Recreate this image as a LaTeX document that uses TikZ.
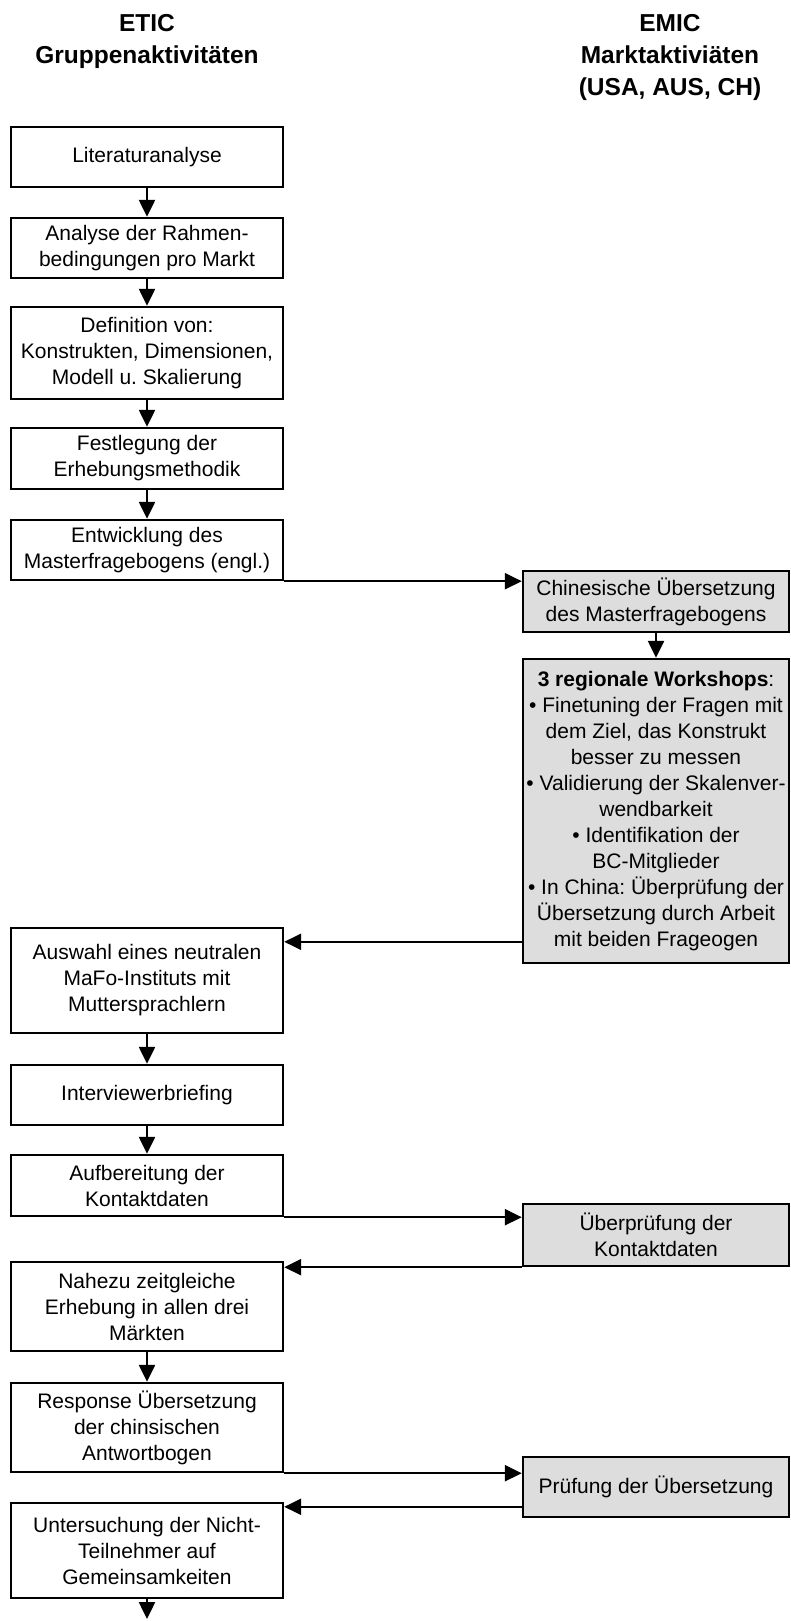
\documentclass[tikz,border=0pt]{standalone}
\usepackage{fontspec}
\setmainfont{Liberation Sans}
\usetikzlibrary{arrows.meta}
\frenchspacing
\begin{document}
\begin{tikzpicture}[x=1pt, y=-1pt,
  box/.style={draw, line width=2.4pt, minimum width=272pt, minimum height=#1,
    inner sep=0pt, align=center, font=\fontsize{21}{26}\selectfont},
  box/.default=60pt,
  emicbox/.style={box=#1, fill=gray!27, minimum width=266pt},
  emicbox/.default=60pt,
  head/.style={align=center, font=\fontsize{24.5}{32}\selectfont\bfseries},
  flow/.style={line width=2.4pt, -{Triangle[length=17pt,width=16pt]}}]
\useasboundingbox (0,0) rectangle (790,1621);
% headings
\node [head] (etic) at (147,41) {ETIC\\Gruppenaktivitäten};
\node [head] (emic) at (670,57) {EMIC\\Marktaktiviäten\\(USA, AUS, CH)};
% ETIC column
\node [box] (lit) at (147,157) {Literaturanalyse};
\node [box] (rahmen) at (147,248) {Analyse der Rahmen-\\bedingungen pro Markt};
\node [box=92pt] (def) at (147,353) {Definition von:\\Konstrukten, Dimensionen,\\Modell u. Skalierung};
\node [box=61pt] (methodik) at (147,458.5) {Festlegung der\\Erhebungsmethodik};
\node [box] (master) at (147,550) {Entwicklung des\\Masterfragebogens (engl.)};
\node [box=105pt] (institut) at (147,980.5) {Auswahl eines neutralen\\MaFo-Instituts mit\\Muttersprachlern};
\node [box] (briefing) at (147,1095) {Interviewerbriefing};
\node [box=61pt] (kontakt) at (147,1185.5) {Aufbereitung der\\Kontaktdaten};
\node [box=89pt] (erhebung) at (147,1306.5) {Nahezu zeitgleiche\\Erhebung in allen drei\\Märkten};
\node [box=89pt] (response) at (147,1427.5) {Response Übersetzung\\der chinsischen\\Antwortbogen};
\node [box=95pt] (nicht) at (147,1550.5) {Untersuchung der Nicht-\\Teilnehmer auf\\Gemeinsamkeiten};
\coordinate (ende) at (147,1619);
% EMIC column
\node [emicbox=61pt] (chin) at (656,601.5) {Chinesische Übersetzung\\des Masterfragebogens};
\node [emicbox=304pt] (workshops) at (656,811) {\textbf{3 regionale Workshops}:\\
  \textbullet{} Finetuning der Fragen mit\\dem Ziel, das Konstrukt\\besser zu messen\\
  \textbullet{} Validierung der Skalenver-\\wendbarkeit\\
  \textbullet{} Identifikation der\\BC-Mitglieder\\
  \textbullet{} In China: Überprüfung der\\Übersetzung durch Arbeit\\mit beiden Frageogen};
\node [emicbox=62pt] (pruefkontakt) at (656,1235) {Überprüfung der\\Kontaktdaten};
\node [emicbox] (pruefuebers) at (656,1487) {Prüfung der Übersetzung};
% connectors
\foreach \a/\b in {lit/rahmen, rahmen/def, def/methodik, methodik/master,
  institut/briefing, briefing/kontakt, erhebung/response, chin/workshops, nicht/ende}
  \draw [flow] (\a) -- (\b);
\coordinate (zurinst) at ([yshift=-15pt]institut.north east);
\coordinate (zurnicht) at ([yshift=-5pt]nicht.north east);
\draw [flow] (master.south east) -- (master.south east -| chin.west);
\draw [flow] (zurinst -| workshops.west) -- (zurinst);
\draw [flow] (kontakt.south east) -- (kontakt.south east -| pruefkontakt.west);
\draw [flow] (pruefkontakt.south west) -- (pruefkontakt.south west -| erhebung.east);
\draw [flow] (response.south east) -- (response.south east -| pruefuebers.west);
\draw [flow] (zurnicht -| pruefuebers.west) -- (zurnicht);
\end{tikzpicture}
\end{document}
